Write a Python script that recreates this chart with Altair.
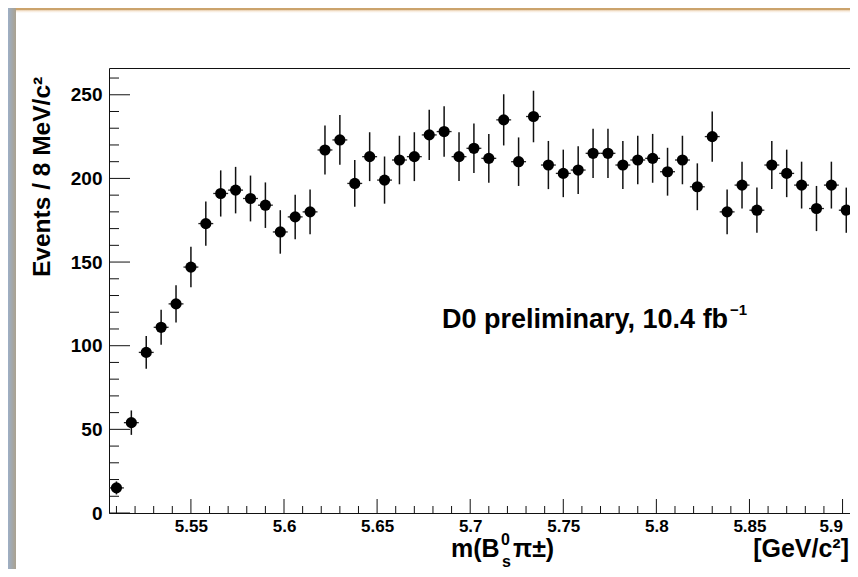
import altair as alt
import pandas as pd

# ---- data ----
mass = [5.510, 5.518, 5.526, 5.534, 5.542, 5.550, 5.558, 5.566, 5.574, 5.582,
        5.590, 5.598, 5.606, 5.614, 5.622, 5.630, 5.638, 5.646, 5.654, 5.662,
        5.670, 5.678, 5.686, 5.694, 5.702, 5.710, 5.718, 5.726, 5.734, 5.742,
        5.750, 5.758, 5.766, 5.774, 5.782, 5.790, 5.798, 5.806, 5.814, 5.822,
        5.830, 5.838, 5.846, 5.854, 5.862, 5.870, 5.878, 5.886, 5.894, 5.902]
events = [15, 54, 96, 111, 125, 147, 173, 191, 193, 188,
          184, 168, 177, 180, 217, 223, 197, 213, 199, 211,
          213, 226, 228, 213, 218, 212, 235, 210, 237, 208,
          203, 205, 215, 215, 208, 211, 212, 204, 211, 195,
          225, 180, 196, 181, 208, 203, 196, 182, 196, 181]
errors = [3.9, 7.3, 9.8, 10.5, 11.2, 12.1, 13.2, 13.8, 13.9, 13.7,
          13.6, 13.0, 13.3, 13.4, 14.7, 14.9, 14.0, 14.6, 14.1, 14.5,
          14.6, 15.0, 15.1, 14.6, 14.8, 14.6, 15.3, 14.5, 15.4, 14.4,
          14.2, 14.3, 14.7, 14.7, 14.4, 14.5, 14.6, 14.3, 14.5, 14.0,
          15.0, 13.4, 14.0, 13.5, 14.4, 14.2, 14.0, 13.5, 14.0, 13.5]
half_bin = 0.004

x_major = [5.55, 5.60, 5.65, 5.70, 5.75, 5.80, 5.85, 5.90]
x_minor = [5.51, 5.52, 5.53, 5.54, 5.56, 5.57, 5.58, 5.59, 5.61, 5.62, 5.63, 5.64,
           5.66, 5.67, 5.68, 5.69, 5.71, 5.72, 5.73, 5.74, 5.76, 5.77, 5.78, 5.79,
           5.81, 5.82, 5.83, 5.84, 5.86, 5.87, 5.88, 5.89]
y_major = [0, 50, 100, 150, 200, 250]
y_minor = [10, 20, 30, 40, 60, 70, 80, 90, 110, 120, 130, 140, 160, 170, 180, 190,
           210, 220, 230, 240, 260]

X_DOMAIN = [5.506, 5.904]
Y_DOMAIN = [0, 266]
W, H = 741, 445
FONT = "Liberation Sans"

df = pd.DataFrame({"m": mass, "n": events, "e": errors})
xs = alt.Scale(domain=X_DOMAIN, nice=False, zero=False)
ys = alt.Scale(domain=Y_DOMAIN, nice=False, zero=False)

xaxis = alt.Axis(values=x_major, format=".3~g", ticks=False, domain=False, grid=False,
                 labelFont=FONT, labelFontWeight="bold", labelFontSize=17,
                 labelColor="black", labelPadding=5, title=None, labelFlush=10)
yaxis = alt.Axis(values=y_major, ticks=False, domain=False, grid=False,
                 labelFont=FONT, labelFontWeight="bold", labelFontSize=19,
                 labelColor="black", labelPadding=7, title=None)

base = alt.Chart(df)

hbar = base.transform_calculate(lo=f"datum.m - {half_bin}", hi=f"datum.m + {half_bin}").mark_rule(
    color="#222", strokeWidth=1.3).encode(
    x=alt.X("lo:Q", scale=xs, axis=xaxis), x2="hi:Q",
    y=alt.Y("n:Q", scale=ys, axis=yaxis))

vbar = base.transform_calculate(lo="datum.n - datum.e", hi="datum.n + datum.e").mark_rule(
    color="#111", strokeWidth=1.5).encode(
    x=alt.X("m:Q", scale=xs), y=alt.Y("lo:Q", scale=ys), y2="hi:Q")

pts = base.mark_circle(color="black", opacity=1, size=125).encode(
    x=alt.X("m:Q", scale=xs), y=alt.Y("n:Q", scale=ys))

# inward ticks
xmaj = alt.Chart(pd.DataFrame({"t": x_major})).mark_rule(color="#111", strokeWidth=1).encode(
    x=alt.X("t:Q", scale=xs), y=alt.value(H), y2=alt.value(H - 14))
xmin = alt.Chart(pd.DataFrame({"t": x_minor})).mark_rule(color="#111", strokeWidth=1).encode(
    x=alt.X("t:Q", scale=xs), y=alt.value(H), y2=alt.value(H - 7))
ymaj = alt.Chart(pd.DataFrame({"t": y_major})).mark_rule(color="#111", strokeWidth=1).encode(
    y=alt.Y("t:Q", scale=ys), x=alt.value(0), x2=alt.value(21))
ymin = alt.Chart(pd.DataFrame({"t": y_minor})).mark_rule(color="#111", strokeWidth=1).encode(
    y=alt.Y("t:Q", scale=ys), x=alt.value(0), x2=alt.value(10))

def txt(s, x, y, size, angle=0, align="left", baseline="alphabetic", weight="bold"):
    return alt.Chart(pd.DataFrame({"s": [s]})).mark_text(
        font=FONT, fontSize=size, fontWeight=weight, color="black",
        align=align, baseline=baseline, angle=angle).encode(
        text="s:N", x=alt.value(x), y=alt.value(y))

texts = [
    # y title (rotated)
    txt("Events / 8 MeV/c²", -59, 209, 24.5, angle=270),
    # x title
    txt("m(B", 342, 489, 25),
    txt("0", 392, 477, 16),
    txt("s", 393, 499, 16),
    txt("π±)", 404, 489, 25),
    txt("[GeV/c²]", 740, 489, 25, align="right"),
    # annotation
    txt("D0 preliminary, 10.4 fb", 333, 260, 27),
    txt("−1", 621, 247, 15),
]

# page decorations (top bar and left strip)
top_bar = alt.Chart(pd.DataFrame({"a": [0]})).mark_rect(
    color=alt.LinearGradient(gradient="linear", x1=0, y1=0, x2=0, y2=1,
                             stops=[alt.GradientStop(color="#CBA36C", offset=0),
                                    alt.GradientStop(color="#CBA36C", offset=0.3),
                                    alt.GradientStop(color="#F6E6D3", offset=0.55),
                                    alt.GradientStop(color="#FFFFFF", offset=1)])).encode(
    x=alt.value(-99), x2=alt.value(W), y=alt.value(-60), y2=alt.value(-55))
left_strip = alt.Chart(pd.DataFrame({"a": [0]})).mark_rect(
    color=alt.LinearGradient(gradient="linear", x1=0, y1=0, x2=1, y2=0,
                             stops=[alt.GradientStop(color="#9DAFC6", offset=0),
                                    alt.GradientStop(color="#AAA18F", offset=1)])).encode(
    x=alt.value(-101), x2=alt.value(-93), y=alt.value(-60), y2=alt.value(H + 56))

chart = alt.layer(top_bar, left_strip, hbar, vbar, pts, xmaj, xmin, ymaj, ymin, *texts).properties(
    width=W, height=H,
    autosize=alt.AutoSizeParams(type="none"),
    padding={"left": 101, "top": 60, "right": 0, "bottom": 56},
    background="white",
).configure_view(stroke="#111", strokeWidth=1)

chart.save("out.html", embed_options={"renderer": "svg", "actions": False})
